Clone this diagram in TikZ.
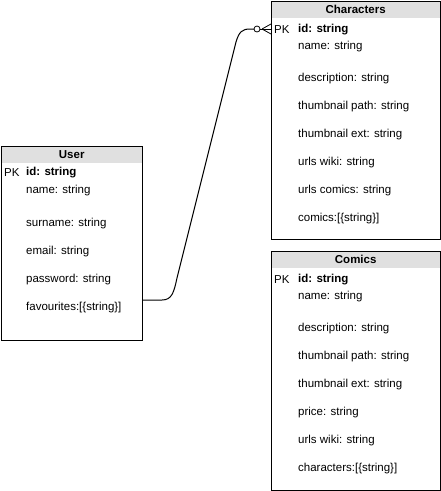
\documentclass[tikz,border=0pt]{standalone}
\usepackage{fontspec}
\setmainfont{Liberation Sans}
\definecolor{hdr}{HTML}{E0E0E0}
\begin{document}
\begin{tikzpicture}[x=1pt,y=-1pt,
  tbl/.style={draw=black,line width=1pt,rectangle,anchor=north west,inner sep=0pt},
  hdrbox/.style={fill=hdr,rectangle,anchor=north west,inner sep=0pt,minimum height=17pt,font=\fontsize{11.5}{13}\selectfont\bfseries},
  fld/.style={anchor=west,inner sep=0pt,font=\fontsize{11.5}{13}\selectfont},
  pkf/.style={anchor=west,inner sep=0pt,font=\fontsize{11.5}{13}\selectfont\bfseries},
  conn/.style={draw=black,line width=1pt}]
\useasboundingbox (0,0) rectangle (441,491);
% User
\node[hdrbox,minimum width=141pt] (userh) at (1,146) {User};
\node[tbl,minimum width=141pt,minimum height=194pt] (user) at (1,146) {};
\node[fld] (u0) at (4,173) {PK};
\node[pkf] (u1) at (26,173) {id: string};
\node[fld] (u2) at (26,191) {name: string};
\node[fld] (u3) at (26,224) {surname: string};
\node[fld] (u4) at (26,252) {email: string};
\node[fld] (u5) at (26,280) {password: string};
\node[fld] (u6) at (26,308) {favourites:[\{string\}]};
% Characters
\node[hdrbox,minimum width=169pt] (charsh) at (271,1) {Characters};
\node[tbl,minimum width=169pt,minimum height=238pt] (chars) at (271,1) {};
\node[fld] (c0) at (274,30) {PK};
\node[pkf] (c1) at (298,30) {id: string};
\node[fld] (c2) at (298,47) {name: string};
\node[fld] (c3) at (298,79) {description: string};
\node[fld] (c4) at (298,107) {thumbnail path: string};
\node[fld] (c5) at (298,135) {thumbnail ext: string};
\node[fld] (c6) at (298,163) {urls wiki: string};
\node[fld] (c7) at (298,191) {urls comics: string};
\node[fld] (c8) at (298,219) {comics:[\{string\}]};
% Comics
\node[hdrbox,minimum width=169pt] (comicsh) at (271,251) {Comics};
\node[tbl,minimum width=169pt,minimum height=239pt] (comics) at (271,251) {};
\node[fld] (m0) at (274,280) {PK};
\node[pkf] (m1) at (298,280) {id: string};
\node[fld] (m2) at (298,297) {name: string};
\node[fld] (m3) at (298,329) {description: string};
\node[fld] (m4) at (298,357) {thumbnail path: string};
\node[fld] (m5) at (298,385) {thumbnail ext: string};
\node[fld] (m6) at (298,413) {price: string};
\node[fld] (m7) at (298,441) {urls wiki: string};
\node[fld] (m8) at (298,469) {characters:[\{string\}]};
% connector
\coordinate (fav) at (user.east |- 0,300);
\coordinate (cpk) at (chars.west |- 0,29);
\coordinate (circ) at (257,29);
\draw[conn] (fav) -- (162,300) .. controls (172,300) and (174,292) .. (177,278)
  -- (236,42) .. controls (239,32) and (242,29) .. (250,29) -- (254,29);
\draw[conn,line width=0.8pt] (circ) circle (3pt);
\draw[conn,line width=0.8pt] (260,29) -- (cpk);
\draw[conn,line width=0.8pt] (262,29) -- (cpk |- 0,24);
\draw[conn,line width=0.8pt] (262,29) -- (cpk |- 0,34);
\end{tikzpicture}
\end{document}
